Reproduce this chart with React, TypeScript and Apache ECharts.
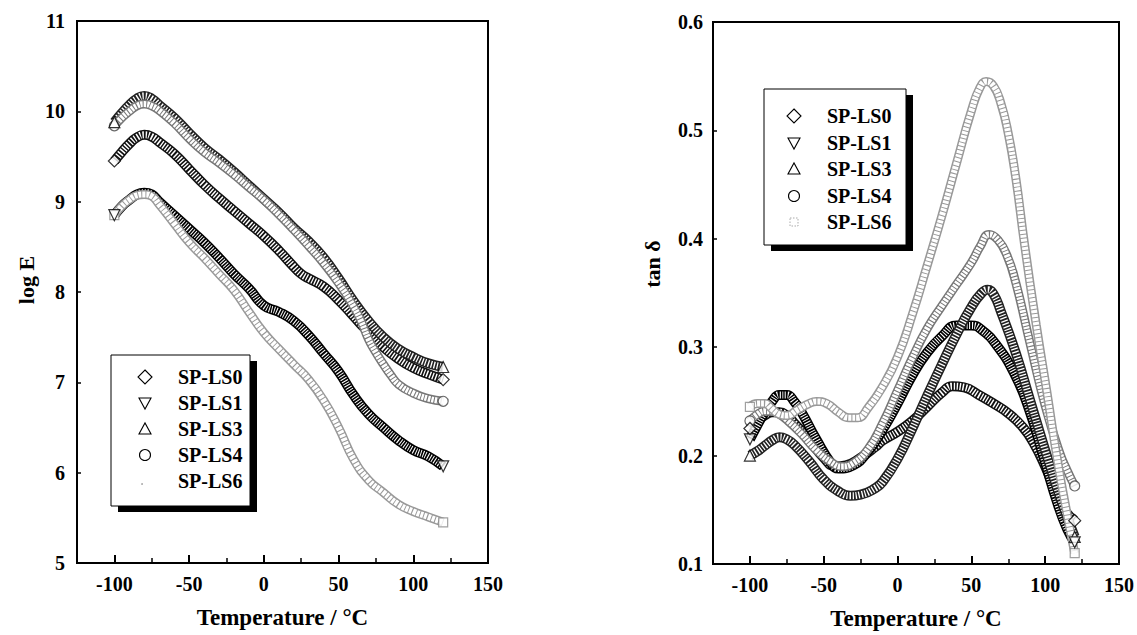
import React, { useEffect, useRef } from "react";
import * as echarts from "echarts";

// ---------- data (Temperature °C, value) ----------
const seriesNames = ["SP-LS0", "SP-LS1", "SP-LS3", "SP-LS4", "SP-LS6"];

const ls0LogE: number[][] = [[-100,9.45],[-95,9.55],[-90,9.64],[-85,9.71],[-80,9.74],[-75,9.72],[-70,9.66],[-60,9.53],[-50,9.36],[-40,9.19],[-30,9.04],[-20,8.9],[-10,8.76],[0,8.62],[10,8.46],[20,8.28],[25,8.2],[30,8.15],[40,8.06],[50,7.91],[58,7.77],[65,7.64],[70,7.56],[80,7.39],[90,7.26],[100,7.16],[110,7.09],[120,7.03]];
const ls1LogE: number[][] = [[-100,8.85],[-95,8.95],[-90,9.02],[-85,9.08],[-80,9.1],[-75,9.08],[-70,9.0],[-60,8.85],[-50,8.7],[-40,8.55],[-30,8.38],[-20,8.2],[-10,8.04],[0,7.85],[10,7.78],[20,7.68],[30,7.52],[40,7.32],[50,7.12],[60,6.86],[70,6.65],[80,6.5],[90,6.36],[100,6.25],[110,6.18],[120,6.07]];
const ls3LogE: number[][] = [[-100,9.88],[-95,9.98],[-90,10.07],[-85,10.14],[-80,10.17],[-75,10.14],[-70,10.07],[-60,9.93],[-50,9.76],[-40,9.6],[-30,9.47],[-20,9.33],[-10,9.18],[0,9.03],[10,8.88],[20,8.71],[30,8.56],[40,8.38],[50,8.15],[60,7.9],[70,7.68],[80,7.5],[90,7.37],[100,7.28],[110,7.21],[120,7.17]];
const ls4LogE: number[][] = [[-100,9.84],[-95,9.93],[-90,10.0],[-85,10.06],[-80,10.08],[-75,10.06],[-70,10.01],[-60,9.87],[-50,9.7],[-40,9.55],[-30,9.43],[-20,9.3],[-10,9.16],[0,9.02],[10,8.86],[20,8.69],[30,8.51],[40,8.32],[50,8.1],[60,7.84],[65,7.68],[70,7.48],[75,7.33],[80,7.2],[85,7.08],[90,6.98],[100,6.88],[110,6.82],[120,6.79]];
const ls6LogE: number[][] = [[-100,8.85],[-95,8.95],[-90,9.02],[-85,9.07],[-80,9.08],[-75,9.06],[-70,8.97],[-60,8.76],[-50,8.55],[-40,8.38],[-30,8.2],[-20,8.02],[-10,7.78],[0,7.55],[10,7.37],[20,7.2],[30,7.03],[40,6.8],[50,6.5],[60,6.15],[70,5.92],[80,5.78],[90,5.65],[100,5.57],[110,5.51],[120,5.45]];

const ls0Tan: number[][] = [[-100,0.225],[-95,0.232],[-90,0.237],[-85,0.24],[-80,0.24],[-75,0.237],[-70,0.23],[-60,0.215],[-50,0.198],[-42,0.19],[-35,0.191],[-25,0.198],[-15,0.208],[-10,0.214],[0,0.222],[10,0.232],[20,0.245],[30,0.258],[37,0.264],[45,0.263],[55,0.256],[65,0.248],[75,0.239],[85,0.226],[92,0.212],[100,0.19],[107,0.167],[113,0.15],[120,0.14]];
const ls1Tan: number[][] = [[-100,0.215],[-95,0.228],[-90,0.24],[-85,0.25],[-80,0.256],[-75,0.256],[-70,0.25],[-65,0.24],[-55,0.215],[-45,0.193],[-40,0.188],[-30,0.191],[-20,0.204],[-10,0.224],[0,0.248],[10,0.274],[20,0.295],[30,0.31],[40,0.32],[50,0.32],[57,0.316],[67,0.302],[79,0.276],[89,0.243],[99,0.198],[109,0.153],[115,0.132],[120,0.12]];
const ls3Tan: number[][] = [[-100,0.2],[-95,0.204],[-90,0.209],[-85,0.214],[-80,0.217],[-75,0.215],[-70,0.21],[-60,0.195],[-50,0.178],[-40,0.167],[-32,0.163],[-25,0.164],[-15,0.17],[-10,0.176],[0,0.197],[10,0.225],[20,0.255],[30,0.284],[40,0.312],[50,0.337],[57,0.35],[61,0.353],[65,0.349],[70,0.333],[80,0.295],[90,0.25],[100,0.205],[110,0.162],[120,0.125]];
const ls4Tan: number[][] = [[-100,0.232],[-95,0.238],[-90,0.241],[-85,0.241],[-80,0.238],[-75,0.233],[-65,0.22],[-55,0.205],[-45,0.194],[-38,0.19],[-30,0.193],[-20,0.206],[-10,0.23],[0,0.26],[10,0.29],[20,0.317],[30,0.338],[40,0.358],[50,0.378],[56,0.393],[62,0.404],[68,0.399],[74,0.385],[80,0.36],[90,0.302],[100,0.246],[110,0.202],[115,0.186],[120,0.172]];
const ls6Tan: number[][] = [[-100,0.245],[-95,0.248],[-90,0.248],[-85,0.243],[-80,0.238],[-75,0.237],[-68,0.242],[-60,0.248],[-55,0.25],[-48,0.248],[-40,0.24],[-33,0.235],[-27,0.235],[-20,0.244],[-10,0.264],[0,0.291],[10,0.33],[20,0.375],[30,0.421],[40,0.47],[50,0.518],[56,0.54],[60,0.545],[65,0.541],[70,0.525],[75,0.497],[80,0.457],[86,0.395],[94,0.32],[101,0.26],[109,0.19],[115,0.145],[120,0.11]];

const xMajorTicks = [-100, -50, 0, 50, 100];
const xMinorTicks = [-75, -25, 25, 75, 125];
const xTickLabels = [-100, -50, 0, 50, 100, 150];

// ---------- styles ----------
const FONT = "'Liberation Serif', 'Times New Roman', serif";

type Sty = { outline: string; width: number; dash: number[]; symbol: string; rotate: number; size: number; stroke: string };
const styles: Sty[] = [
  { outline: "#111", width: 10, dash: [1.4, 1.6], symbol: "diamond", rotate: 0, size: 12, stroke: "#000" },
  { outline: "#000", width: 10, dash: [1.0, 1.6], symbol: "triangle", rotate: 180, size: 11, stroke: "#000" },
  { outline: "#222", width: 10, dash: [1.3, 1.7], symbol: "triangle", rotate: 0, size: 11, stroke: "#000" },
  { outline: "#777", width: 9, dash: [2.4, 1.0], symbol: "circle", rotate: 0, size: 10, stroke: "#444" },
  { outline: "#999", width: 9, dash: [3.0, 1.0], symbol: "rect", rotate: 0, size: 9, stroke: "#888" },
];

function ribbon(data: number[][], idx: number, xi: number, yi: number): any[] {
  const s = styles[idx];
  const ends = [data[0], data[data.length - 1]];
  return [
    {
      type: "line", name: seriesNames[idx] + "-o", xAxisIndex: xi, yAxisIndex: yi,
      data, smooth: true, symbol: "none", silent: true,
      lineStyle: { color: s.outline, width: s.width, cap: "butt" }, z: 2 + idx,
    },
    {
      type: "line", name: seriesNames[idx] + "-i", xAxisIndex: xi, yAxisIndex: yi,
      data, smooth: true, symbol: "none", silent: true,
      lineStyle: { color: "#fff", width: s.width - 3, type: s.dash, cap: "butt" }, z: 2 + idx,
    },
    {
      type: "scatter", name: seriesNames[idx] + "-m", xAxisIndex: xi, yAxisIndex: yi,
      data: ends, symbol: s.symbol, symbolRotate: s.rotate, symbolSize: s.size, silent: true,
      itemStyle: { color: "#fff", borderColor: s.stroke, borderWidth: 1.2 }, z: 8,
    },
  ];
}

function xAxes(grid: number): any[] {
  return [
    {
      type: "value", gridIndex: grid, position: "bottom", min: -125, max: 150, interval: 25,
      axisLine: { show: true, onZero: false, lineStyle: { color: "#000", width: 2 } },
      axisTick: { show: true, inside: true, length: 8, customValues: xMajorTicks, lineStyle: { color: "#000", width: 2 } },
      axisLabel: {
        customValues: xTickLabels, formatter: (v: number) => String(v), margin: 11,
        color: "#000", fontFamily: FONT, fontWeight: "bold", fontSize: 20,
      },
      splitLine: { show: false },
      name: "Temperature / \u00B0C", nameLocation: "middle", nameGap: 43,
      nameTextStyle: { color: "#000", fontFamily: FONT, fontWeight: "bold", fontSize: 23 },
    },
    {
      type: "value", gridIndex: grid, position: "bottom", min: -125, max: 150, interval: 25,
      axisLine: { show: false, onZero: false },
      axisTick: { show: true, inside: true, length: 5, customValues: xMinorTicks, lineStyle: { color: "#000", width: 1.5 } },
      axisLabel: { show: false }, splitLine: { show: false },
    },
  ];
}

function legendGraphics(x0: number, y0: number, w: number, h: number, rowY: number[], mx: number, tx: number, lightDot: boolean): any[] {
  const els: any[] = [
    { type: "rect", shape: { x: x0 + 7, y: y0 + 6, width: w, height: h }, style: { fill: "#000" }, z: 20 },
    { type: "rect", shape: { x: x0, y: y0, width: w, height: h }, style: { fill: "#fff", stroke: "#000", lineWidth: 1 }, z: 21 },
  ];
  const ms = { fill: "#fff", stroke: "#000", lineWidth: 1.1 };
  const r = 6;
  rowY.forEach((y, i) => {
    let m: any;
    if (i === 0) m = { type: "polygon", shape: { points: [[mx, y - r - 1], [mx + r + 1, y], [mx, y + r + 1], [mx - r - 1, y]] }, style: ms };
    else if (i === 1) m = { type: "polygon", shape: { points: [[mx - r, y - r + 1], [mx + r, y - r + 1], [mx, y + r]] }, style: ms };
    else if (i === 2) m = { type: "polygon", shape: { points: [[mx - r, y + r - 1], [mx + r, y + r - 1], [mx, y - r]] }, style: ms };
    else if (i === 3) m = { type: "circle", shape: { cx: mx, cy: y, r: 5.5 }, style: ms };
    else m = lightDot
      ? { type: "circle", shape: { cx: mx - 3, cy: y + 3, r: 0.8 }, style: { fill: "#999" } }
      : { type: "rect", shape: { x: mx - 4, y: y - 4, width: 8, height: 8 }, style: { fill: "#fff", stroke: "#aaa", lineWidth: 1, lineDash: [1.5, 1.5] } };
    els.push({ ...m, z: 22 });
    els.push({
      type: "text", x: tx, y, z: 22,
      style: { text: seriesNames[i], fill: "#000", fontFamily: FONT, fontWeight: "bold", fontSize: 20, align: "left", verticalAlign: "middle" },
    });
  });
  return els;
}

export default function App() {
  const ref = useRef<HTMLDivElement>(null);
  useEffect(() => {
    if (!ref.current) return;
    const chart = echarts.init(ref.current, undefined, { renderer: "svg" });
    const leftData = [ls0LogE, ls1LogE, ls3LogE, ls4LogE, ls6LogE];
    const rightData = [ls0Tan, ls1Tan, ls3Tan, ls4Tan, ls6Tan];
    const drawOrderLeft = [4, 3, 0, 1, 2];
    const drawOrderRight = [4, 3, 2, 1, 0];
    const series: any[] = [];
    drawOrderLeft.forEach((i) => series.push(...ribbon(leftData[i], i, 0, 0)));
    drawOrderRight.forEach((i) => series.push(...ribbon(rightData[i], i, 2, 1)));

    const yLabel = { color: "#000", fontFamily: FONT, fontWeight: "bold", fontSize: 20 };
    chart.setOption({
      animation: false,
      backgroundColor: "#fff",
      grid: [
        { left: 77, top: 21, width: 411, height: 542, show: true, borderColor: "#000", borderWidth: 2, backgroundColor: "transparent" },
        { left: 713, top: 22, width: 408, height: 542, show: true, borderColor: "#000", borderWidth: 2, backgroundColor: "transparent" },
      ],
      xAxis: [...xAxes(0), ...xAxes(1)],
      yAxis: [
        {
          type: "value", gridIndex: 0, min: 5, max: 11, interval: 1, position: "left",
          axisLine: { show: true, onZero: false, lineStyle: { color: "#000", width: 2 } },
          axisTick: { show: true, inside: true, length: 4, lineStyle: { color: "#000", width: 1.5 } },
          axisLabel: { ...yLabel, margin: 12 }, splitLine: { show: false },
        },
        {
          type: "value", gridIndex: 1, min: 0.1, max: 0.6, interval: 0.1, position: "left",
          axisLine: { show: true, onZero: false, lineStyle: { color: "#000", width: 2 } },
          axisTick: { show: true, inside: true, length: 4, lineStyle: { color: "#000", width: 1.5 } },
          axisLabel: { ...yLabel, margin: 10, formatter: (v: number) => v.toFixed(1) }, splitLine: { show: false },
        },
      ],
      graphic: [
        {
          type: "text", x: 26, y: 280, rotation: Math.PI / 2, z: 30,
          style: { text: "log E", fill: "#000", fontFamily: FONT, fontWeight: "bold", fontSize: 22, align: "center", verticalAlign: "middle" },
        },
        {
          type: "text", x: 652, y: 264, rotation: Math.PI / 2, z: 30,
          style: { text: "tan \u03B4", fill: "#000", fontFamily: FONT, fontWeight: "bold", fontSize: 22, align: "center", verticalAlign: "middle" },
        },
        ...legendGraphics(111, 355, 139, 151, [377, 403, 429, 455, 481], 145, 178, true),
        ...legendGraphics(764, 89, 142, 156, [116, 143, 169, 196, 222], 794, 827, false),
      ],
      series,
    });
    return () => chart.dispose();
  }, []);
  return <div ref={ref} style={{ position: "fixed", left: 0, top: 0, width: 1137, height: 635 }} />;
}
